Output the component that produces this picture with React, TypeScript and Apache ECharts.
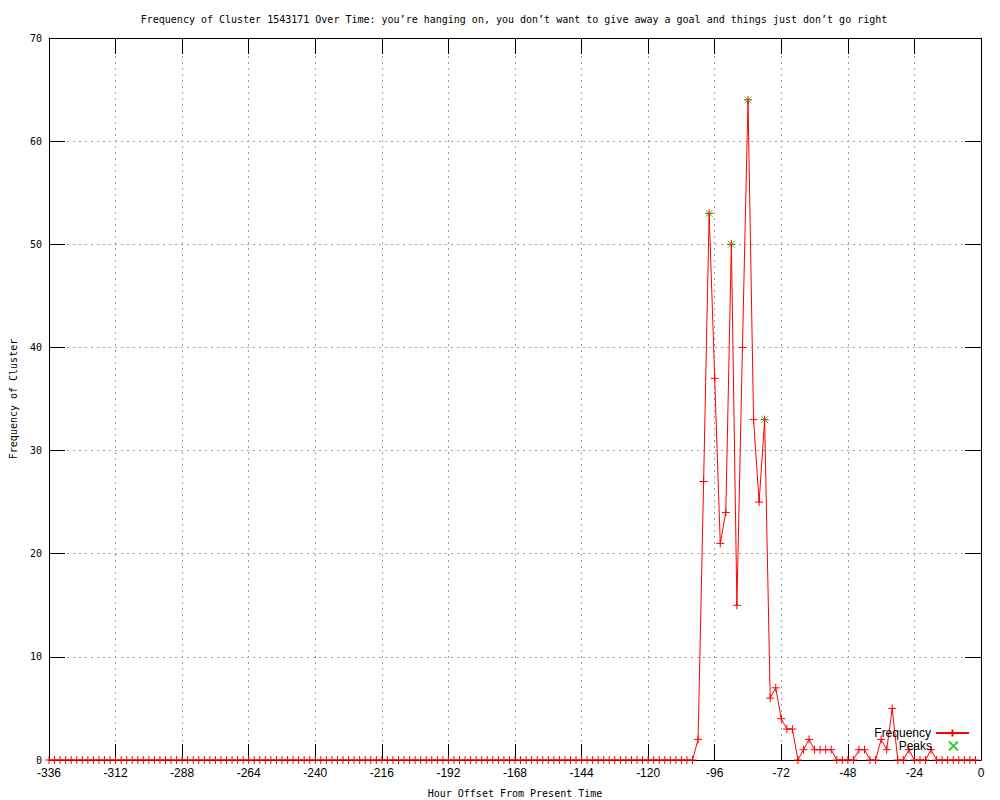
import React, { useEffect, useRef } from "react";
import * as echarts from "echarts";

const TITLE =
  "Frequency of Cluster 1543171 Over Time: you’re hanging on, you don’t want to give away a goal and things just don’t go right";
const X_NAME = "Hour Offset From Present Time";
const Y_NAME = "Frequency of Cluster";
const SERIES_FREQ = "Frequency";
const SERIES_PEAKS = "Peaks";

// hours of the samples: -336, -334, ..., -2
const FIRST_HOUR = -336;
const HOUR_STEP = 2;

// frequency per 2-hour sample, from -336 to -2
const frequency: number[] = [
  // -336 .. -290
  0, 0, 0, 0, 0, 0, 0, 0, 0, 0, 0, 0, 0, 0, 0, 0, 0, 0, 0, 0, 0, 0, 0, 0,
  // -288 .. -242
  0, 0, 0, 0, 0, 0, 0, 0, 0, 0, 0, 0, 0, 0, 0, 0, 0, 0, 0, 0, 0, 0, 0, 0,
  // -240 .. -194
  0, 0, 0, 0, 0, 0, 0, 0, 0, 0, 0, 0, 0, 0, 0, 0, 0, 0, 0, 0, 0, 0, 0, 0,
  // -192 .. -146
  0, 0, 0, 0, 0, 0, 0, 0, 0, 0, 0, 0, 0, 0, 0, 0, 0, 0, 0, 0, 0, 0, 0, 0,
  // -144 .. -104
  0, 0, 0, 0, 0, 0, 0, 0, 0, 0, 0, 0, 0, 0, 0, 0, 0, 0, 0, 0, 0,
  // -102 .. -80
  2, 27, 53, 37, 21, 24, 50, 15, 40, 64, 33, 25,
  // -78 .. -56
  33, 6, 7, 4, 3, 3, 0, 1, 2, 1, 1, 1,
  // -54 .. -32
  1, 0, 0, 0, 0, 1, 1, 0, 0, 2, 1, 5,
  // -30 .. -2
  0, 0, 1, 0, 0, 0, 1, 0, 0, 0, 0, 0, 0, 0, 0,
];

const peakHours: number[] = [-98, -90, -84, -78];
const peakValues: number[] = [53, 50, 64, 33];

const X_MIN = -336;
const X_MAX = 0;
const X_INTERVAL = 24;
const Y_MIN = 0;
const Y_MAX = 70;
const Y_INTERVAL = 10;

const PLUS = "path://M5,0L5,10M0,5L10,5";
const CROSS = "path://M0,0L10,10M10,0L0,10";

export default function App() {
  const ref = useRef<HTMLDivElement>(null);

  useEffect(() => {
    if (!ref.current) return;
    const chart = echarts.init(ref.current, undefined, { renderer: "svg" });

    const freqData = frequency.map((v, i) => [FIRST_HOUR + i * HOUR_STEP, v]);
    const peakData = peakHours.map((h, i) => [h, peakValues[i]]);

    const mono = "'DejaVu Sans Mono', monospace";
    const sans = "'Liberation Sans', Arial, sans-serif";
    const grid = {
      show: false,
      left: 49,
      right: 19,
      top: 38,
      bottom: 40,
      outerBoundsMode: "none",
      containLabel: false,
    };
    const axisLine = { show: true, onZero: false, lineStyle: { color: "#000", width: 1 } };
    const tick = { show: true, inside: true, length: 16, lineStyle: { color: "#000", width: 1 } };
    const split = { show: true, lineStyle: { color: "#a0a0a0", width: 1, type: [2, 4] } };
    const legendText = { fontFamily: sans, fontSize: 12, color: "#000", lineHeight: 12 };

    chart.setOption({
      animation: false,
      backgroundColor: "#fff",
      title: {
        text: TITLE,
        left: 509,
        textAlign: "center",
        top: 9,
        textStyle: { fontFamily: mono, fontSize: 10, fontWeight: "normal", color: "#000" },
      },
      grid,
      legend: [
        {
          data: [SERIES_FREQ],
          right: 30,
          top: 727,
          padding: 0,
          align: "right",
          itemWidth: 33,
          itemHeight: 9,
          textStyle: legendText,
          selectedMode: false,
        },
        {
          data: [SERIES_PEAKS],
          right: 41,
          top: 740,
          padding: 0,
          align: "right",
          itemWidth: 33,
          itemHeight: 9,
          textStyle: legendText,
          selectedMode: false,
        },
      ],
      xAxis: [
        {
          type: "value",
          min: X_MIN,
          max: X_MAX,
          interval: X_INTERVAL,
          position: "bottom",
          name: X_NAME,
          nameLocation: "middle",
          nameGap: 28,
          nameTextStyle: { fontFamily: mono, fontSize: 10, color: "#000" },
          axisLine,
          axisTick: tick,
          axisLabel: { show: true, margin: 7, fontFamily: sans, fontSize: 12, color: "#000" },
          splitLine: split,
        },
        {
          type: "value",
          min: X_MIN,
          max: X_MAX,
          interval: X_INTERVAL,
          position: "top",
          axisLine,
          axisTick: tick,
          axisLabel: { show: false },
          splitLine: { show: false },
        },
      ],
      yAxis: [
        {
          type: "value",
          min: Y_MIN,
          max: Y_MAX,
          interval: Y_INTERVAL,
          position: "left",
          name: Y_NAME,
          nameLocation: "middle",
          nameRotate: 90,
          nameGap: 31,
          nameTextStyle: { fontFamily: mono, fontSize: 10, color: "#000" },
          axisLine,
          axisTick: tick,
          axisLabel: { show: true, margin: 7, fontFamily: mono, fontSize: 10, color: "#000" },
          splitLine: split,
        },
        {
          type: "value",
          min: Y_MIN,
          max: Y_MAX,
          interval: Y_INTERVAL,
          position: "right",
          axisLine,
          axisTick: tick,
          axisLabel: { show: false },
          splitLine: { show: false },
        },
      ],
      series: [
        {
          name: SERIES_FREQ,
          type: "line",
          xAxisIndex: 0,
          yAxisIndex: 0,
          data: freqData,
          symbol: PLUS,
          symbolSize: 8,
          showSymbol: true,
          showAllSymbol: true,
          lineStyle: { color: "#ff0000", width: 1 },
          itemStyle: { color: "#ff0000", borderColor: "#ff0000", borderWidth: 1 },
          emphasis: { disabled: true },
          z: 3,
        },
        {
          name: SERIES_PEAKS,
          type: "scatter",
          xAxisIndex: 0,
          yAxisIndex: 0,
          data: peakData,
          symbol: CROSS,
          symbolSize: 7,
          itemStyle: { color: "#00c000", borderColor: "#00c000", borderWidth: 1 },
          emphasis: { disabled: true },
          z: 4,
        },
      ],
    });

    return () => chart.dispose();
  }, []);

  return (
    <div
      ref={ref}
      style={{ position: "fixed", left: 0, top: 0, width: 1000, height: 800, background: "#fff" }}
    />
  );
}
